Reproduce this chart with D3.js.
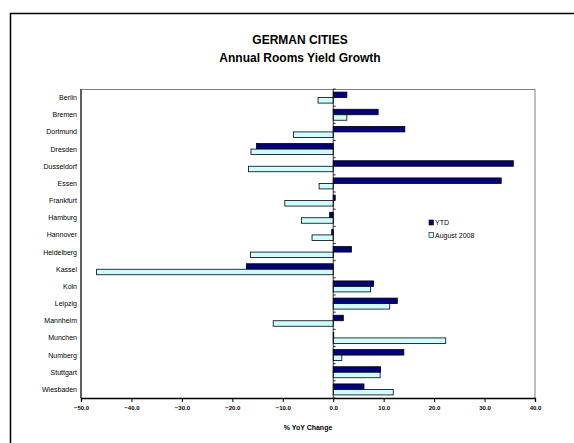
<!DOCTYPE html>
<html>
<head>
<meta charset="utf-8">
<script src="https://cdn.jsdelivr.net/npm/d3@7"></script>
<style>
  body { margin: 0; background: #fff; }
  svg { display: block; font-family: "Liberation Sans", Arial, sans-serif; }
</style>
</head>
<body>
<svg width="574" height="443"></svg>
<script>
const cities = ['Berlin', 'Bremen', 'Dortmund', 'Dresden', 'Dusseldorf', 'Essen', 'Frankfurt',
  'Hamburg', 'Hannover', 'Heidelberg', 'Kassel', 'Koln', 'Leipzig', 'Mannheim', 'Munchen',
  'Numberg', 'Stuttgart', 'Wiesbaden'];
const ytd = [2.7, 8.9, 14.2, -15.2, 35.7, 33.3, 0.4, -0.7, -0.3, 3.6, -17.2, 8.0, 12.7, 2.0, 0.1, 14.0, 9.4, 6.1];
const aug2008 = [-3.0, 2.7, -7.9, -16.3, -16.8, -2.8, -9.6, -6.3, -4.2, -16.4, -46.9, 7.4, 11.2, -11.9, 22.3, 1.7, 9.3, 11.9];
const xTicks = [-50, -40, -30, -20, -10, 0, 10, 20, 30, 40];
const seriesNames = ['YTD', 'August 2008'];
const seriesColors = ['#000080', '#CCFFFF'];

const svg = d3.select('svg');
const plot = { left: 81, right: 535, top: 89, bottom: 398 };

// outer chart frame
svg.append('rect')
  .attr('x', 10.5).attr('y', 13.5)
  .attr('width', 600).attr('height', 500)
  .attr('fill', 'none').attr('stroke', '#000').attr('stroke-width', 1.5);

svg.append('text').attr('x', 300).attr('y', 44).attr('text-anchor', 'middle')
  .attr('font-size', 12).attr('font-weight', 'bold').text('GERMAN CITIES');
svg.append('text').attr('x', 300).attr('y', 62).attr('text-anchor', 'middle')
  .attr('font-size', 12).attr('font-weight', 'bold').text('Annual Rooms Yield Growth');

const x = d3.scaleLinear().domain([-50, 40]).range([plot.left, plot.right]);
const y = d3.scaleBand().domain(cities).range([plot.top, plot.bottom]).paddingInner(0.36).paddingOuter(0.18);
const sub = d3.scaleBand().domain([0, 1]).range([0, y.bandwidth()]);

// plot area border
svg.append('rect')
  .attr('x', plot.left).attr('y', plot.top + 0.5)
  .attr('width', plot.right - plot.left).attr('height', plot.bottom - plot.top)
  .attr('fill', 'none').attr('stroke', '#808080').attr('stroke-width', 1);
svg.append('line').attr('x1', plot.left).attr('x2', plot.left)
  .attr('y1', plot.top).attr('y2', plot.bottom).attr('stroke', '#000');

const rows = cities.map((c, i) => ({ city: c, vals: [ytd[i], aug2008[i]] }));

const g = svg.append('g');
rows.forEach(r => {
  r.vals.forEach((v, k) => {
    g.append('rect')
      .attr('x', x(Math.min(0, v)))
      .attr('y', y(r.city) + sub(k))
      .attr('width', Math.abs(x(v) - x(0)))
      .attr('height', sub.bandwidth())
      .attr('fill', seriesColors[k])
      .attr('stroke', '#000').attr('stroke-width', 0.8);
  });
});

// category axis at zero
svg.append('line').attr('x1', x(0)).attr('x2', x(0))
  .attr('y1', plot.top).attr('y2', plot.bottom).attr('stroke', '#000').attr('stroke-width', 0.8);
const step = y.step();
d3.range(cities.length + 1).forEach(i => {
  const yy = plot.top + i * (plot.bottom - plot.top) / cities.length;
  svg.append('line').attr('x1', x(0)).attr('x2', x(0) + 2.5)
    .attr('y1', yy).attr('y2', yy).attr('stroke', '#000').attr('stroke-width', 0.8);
});

svg.append('g').selectAll('text').data(cities).join('text')
  .attr('x', 77).attr('y', d => y(d) + y.bandwidth() / 2)
  .attr('dy', '0.35em').attr('text-anchor', 'end')
  .attr('font-size', 7).text(d => d);

// value axis
const xAxis = d3.axisBottom(x).tickValues(xTicks).tickSize(4).tickFormat(d3.format('.1f'));
const xg = svg.append('g').attr('transform', `translate(0,${plot.bottom})`).call(xAxis);
xg.select('.domain').attr('stroke-width', 1.3);
xg.selectAll('.tick text').attr('font-size', 6).attr('font-weight', 'bold')
  .attr('font-family', '"Liberation Sans", Arial, sans-serif').attr('dy', '0.9em');

svg.append('text').attr('x', x(-5)).attr('y', 430).attr('text-anchor', 'middle')
  .attr('font-size', 7).attr('font-weight', 'bold').text('% YoY Change');

// legend
const lg = svg.append('g').attr('transform', 'translate(429,220)');
seriesNames.forEach((n, k) => {
  lg.append('rect').attr('x', 0).attr('y', k * 12.5).attr('width', 4.5).attr('height', 5)
    .attr('fill', seriesColors[k]).attr('stroke', '#000').attr('stroke-width', 0.6);
  lg.append('text').attr('x', 6).attr('y', k * 12.5 + 5).attr('font-size', 7).text(n);
});
</script>
</body>
</html>
